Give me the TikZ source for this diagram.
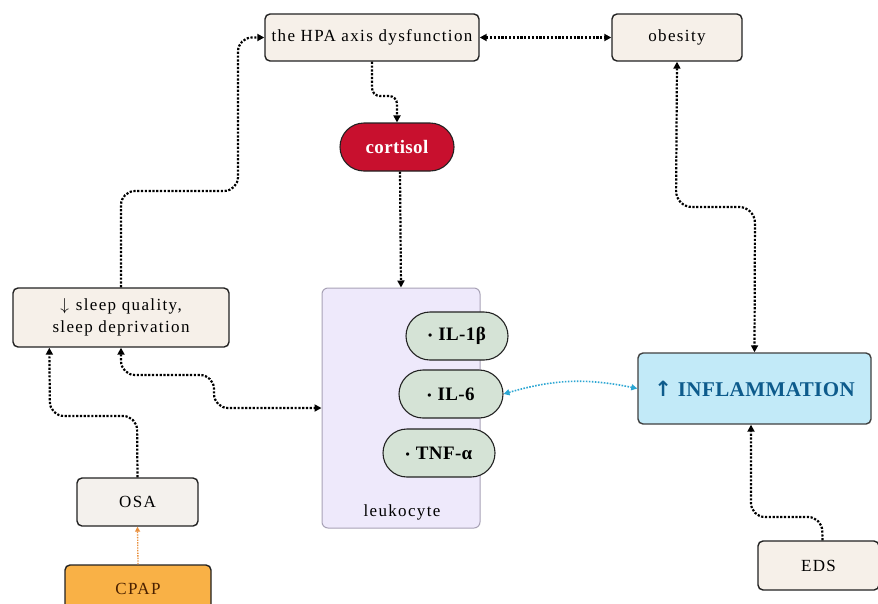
\documentclass[tikz,border=0pt]{standalone}
\usepackage{fontspec}
\setmainfont{Liberation Serif}[LetterSpace=8]
\newfontfamily\boldserif{Liberation Serif}[LetterSpace=2]
\newfontfamily\arrowfont{DejaVu Sans}
\usetikzlibrary{arrows.meta,shapes.misc,calc}

\definecolor{boxbeige}{HTML}{F6F0E9}
\definecolor{osagrey}{HTML}{F4F1ED}
\definecolor{cortred}{HTML}{C8102E}
\definecolor{pillgreen}{HTML}{D5E3D6}
\definecolor{cellfill}{HTML}{EEE9FB}
\definecolor{celledge}{HTML}{A8A2B6}
\definecolor{inflfill}{HTML}{C2EAF8}
\definecolor{infltext}{HTML}{0D5B8C}
\definecolor{cpapfill}{HTML}{F9B146}
\definecolor{cpaptext}{HTML}{4A2000}
\definecolor{linkcyan}{HTML}{2BA6D3}
\definecolor{linkorange}{HTML}{E98F3C}
\definecolor{edge}{HTML}{222222}

\tikzset{
  box/.style={draw=edge, line width=1.4pt, rounded corners=5pt, fill=boxbeige,
    inner sep=2pt, align=center},
  pill/.style={draw=edge, line width=1.1pt, rounded rectangle, inner sep=2pt},
  boldtext/.style={font=\fontsize{19}{22}\selectfont\boldserif\bfseries},
  cytokine/.style={pill, fill=pillgreen, minimum height=48pt, boldtext},
  cellbody/.style={draw=celledge, line width=1pt, fill=cellfill, rounded corners=6pt},
  dotlink/.style={line width=2.2pt, dash pattern=on 2.2pt off 1.6pt, rounded corners=14pt},
  oneway/.style={dotlink, -{Triangle[length=7pt,width=7pt]}},
  twoway/.style={dotlink, {Triangle[length=7pt,width=7pt]}-{Triangle[length=7pt,width=7pt]}},
}

\newcommand{\cytodot}{{\fontsize{12}{12}\selectfont\raisebox{1pt}{•}}\hspace{6pt}}

\begin{document}
\begin{tikzpicture}[x=1pt, y=-1pt, font=\fontsize{17}{22}\selectfont]
  \useasboundingbox (0,0) rectangle (878,603);
  \fill[white] (0,0) rectangle (878,603);

  % leukocyte body, drawn first so the cytokines overlap its edge
  \node[cellbody, minimum width=158pt, minimum height=240pt] (leuko) at (401,408) {};
  \node (leukolabel) at (402,512) {leukocyte};

  % boxes
  \node[box, minimum width=214pt, minimum height=47pt] (hpa) at (372,37.5) {the HPA axis dysfunction};
  \node[box, minimum width=130pt, minimum height=47pt] (obesity) at (677,37.5) {obesity};
  \node[pill, fill=cortred, text=white, minimum width=118pt, minimum height=48pt,
        boldtext] (cortisol) at (397,147) {cortisol};
  \node[box, minimum width=216pt, minimum height=59pt] (sleep) at (121,317.5)
        {$\downarrow$\hspace{7pt}sleep quality,\\sleep deprivation};
  \node[cytokine, minimum width=106pt] (il1b) at (457,336) {\cytodot IL-1β};
  \node[cytokine, minimum width=108pt] (il6) at (451,394) {\cytodot IL-6};
  \node[cytokine, minimum width=116pt] (tnf) at (439,453) {\cytodot TNF-α};
  \node[box, fill=inflfill, draw=black!75, minimum width=233pt, minimum height=71pt,
        text=infltext, font=\fontsize{21}{24}\selectfont\boldserif\bfseries] (infl) at (754.5,388.5)
        {{\arrowfont\bfseries ↑}\hspace{6pt}INFLAMMATION};
  \node[box, fill=osagrey, minimum width=121pt, minimum height=48pt] (osa) at (137.5,502) {OSA};
  \node[box, fill=cpapfill, text=cpaptext, minimum width=146pt, minimum height=48pt] (cpap) at (138,589) {CPAP};
  \node[box, minimum width=121pt, minimum height=49pt] (eds) at (818.5,565.5) {EDS};

  % connectors
  \draw[oneway] (sleep.north) -- (121,191) -- (238,191) -- (238,37.5) -- (hpa.west);
  \draw[twoway] (hpa.east) -- (obesity.west);
  \draw[oneway, rounded corners=8pt] (hpa.south) -- (372,96) -- (397,96) -- (cortisol.north);
  \draw[oneway] ($(cortisol.south)+(3,0)$) -- (leuko.north);
  \draw[twoway, rounded corners=16pt] (obesity.south) -- (676,207) -- (755,207) -- (infl.north);
  \draw[twoway] (sleep.south) -- (121,375) -- (214,375) -- (214,408) -- (leuko.west);
  \draw[oneway] (osa.north) -- (137,416) -- (50,416) -- ($(sleep.south west)+(37,0)$);
  \draw[oneway, draw=linkorange, line width=1.3pt, dash pattern=on 1.4pt off 1.2pt,
        -{Triangle[length=5pt,width=5pt]}] (cpap.north) -- (osa.south);
  \draw[twoway, draw=linkcyan, line width=1.6pt, dash pattern=on 1.6pt off 1.4pt,
        {Triangle[length=6pt,width=6pt]}-{Triangle[length=6pt,width=6pt]}]
        (il6.east) to[bend left=14] (infl.west);
  \draw[oneway] ($(eds.north)+(4,0)$) -- (822,517) -- (751,517) -- ($(infl.south)+(-3.5,0)$);
\end{tikzpicture}
\end{document}
